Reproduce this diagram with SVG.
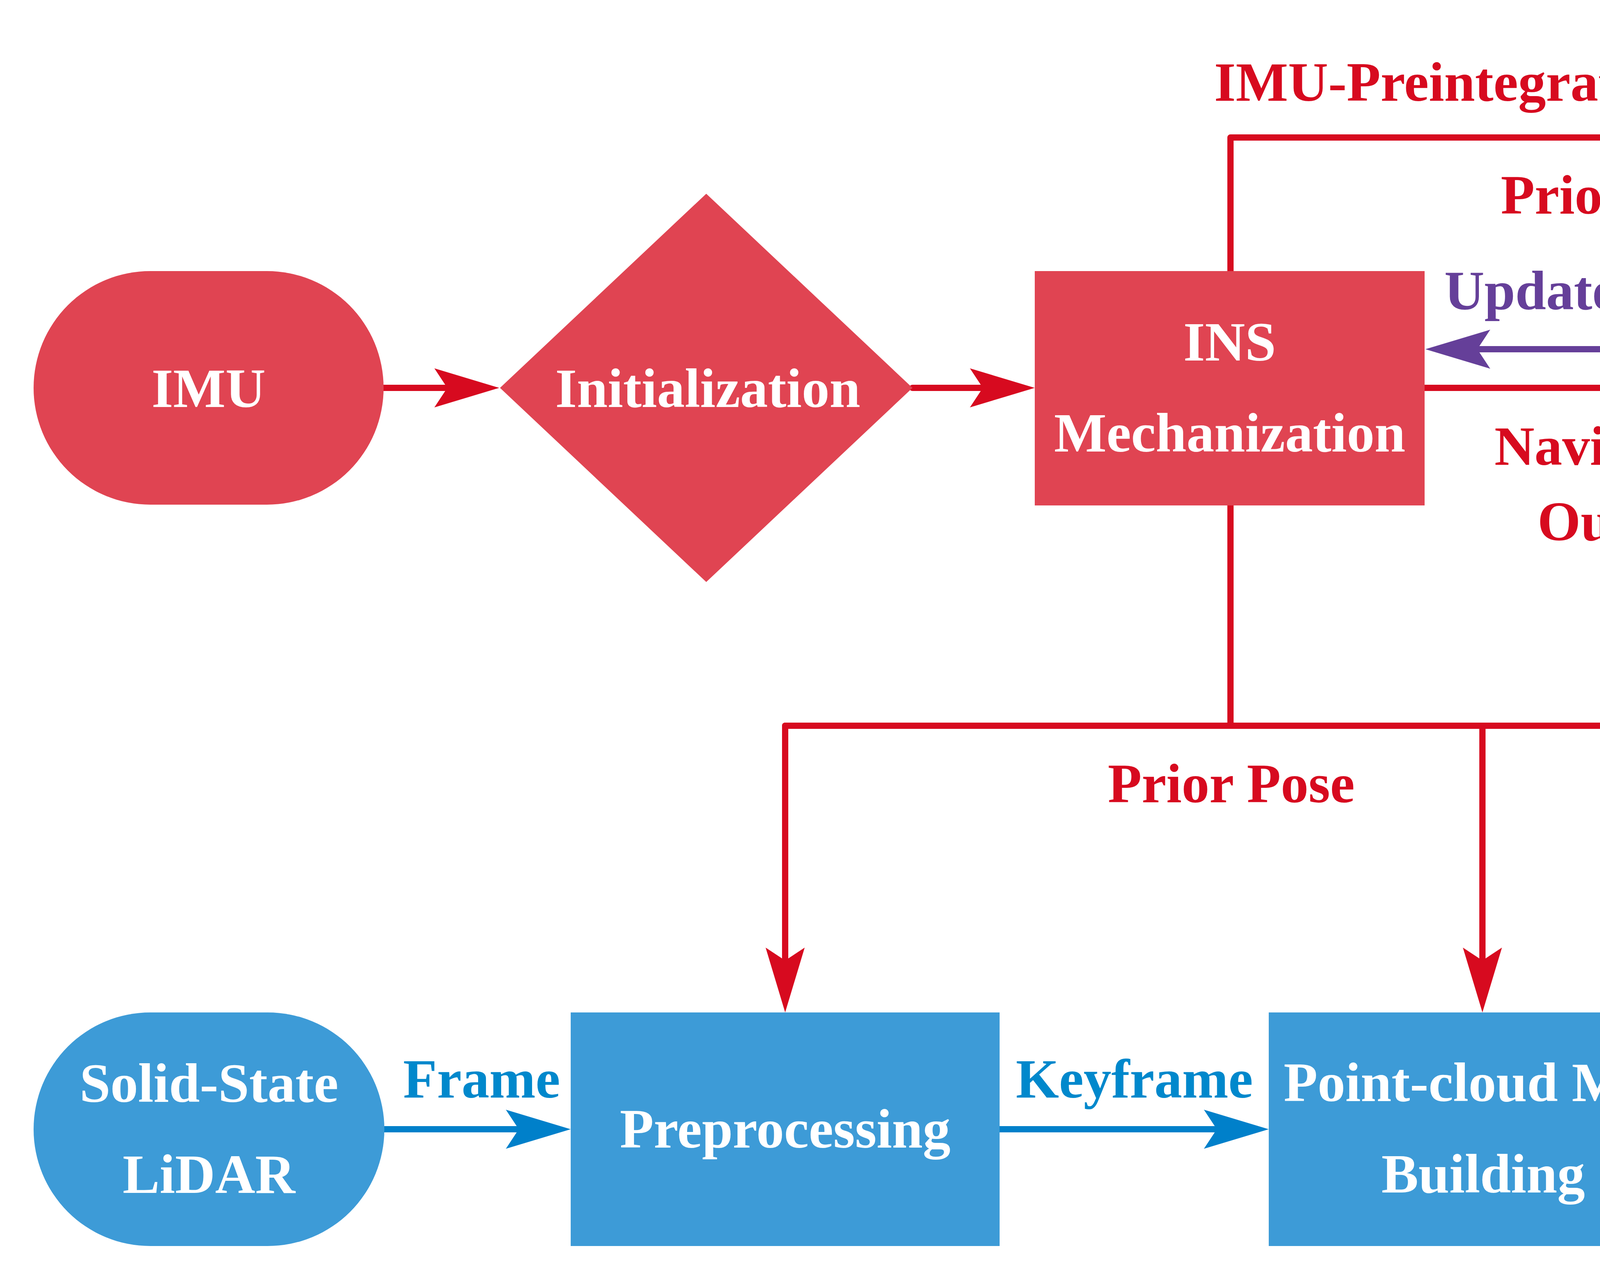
<svg xmlns="http://www.w3.org/2000/svg" width="6273" height="3277" viewBox="0 0 6273 3277">
<style>
text{font-family:"Liberation Serif","Times New Roman",serif;font-weight:bold;font-size:142px;text-anchor:middle}
.w{fill:#ffffff}
.rt{fill:#D70A1F}
.pt{fill:#653F99}
.bt{fill:#0088CC}
.big{font-size:164px}
.rn{fill:#E04452}
.pn{fill:#8B6FAF}
.bn{fill:#3D9BD7}
.c{fill:none;stroke-width:16;stroke-linecap:round;stroke-linejoin:round}
.cr{stroke:#D70A1F}
.cp{stroke:#653F99}
.cb{stroke:#0080CA}
</style>
<defs>
<marker id="ar" markerUnits="userSpaceOnUse" viewBox="-170 -55 175 110" markerWidth="175" markerHeight="110" refX="-133" refY="0" orient="auto"><path d="M0,0 L-166,-50 L-133,0 L-166,50 Z" fill="#D70A1F"/></marker>
<marker id="ap" markerUnits="userSpaceOnUse" viewBox="-170 -55 175 110" markerWidth="175" markerHeight="110" refX="-133" refY="0" orient="auto"><path d="M0,0 L-166,-50 L-133,0 L-166,50 Z" fill="#653F99"/></marker>
<marker id="ab" markerUnits="userSpaceOnUse" viewBox="-170 -55 175 110" markerWidth="175" markerHeight="110" refX="-133" refY="0" orient="auto"><path d="M0,0 L-166,-50 L-133,0 L-166,50 Z" fill="#0080CA"/></marker>
</defs>
<rect width="6273" height="3277" fill="#ffffff"/>
<g id="connectors">
<path class="c cr" d="M982,993 L1145,993" marker-end="url(#ar)"/>
<path class="c cr" d="M2336,993 L2516,993" marker-end="url(#ar)"/>
<path class="c cr" d="M3150,694 L3150,352 L4689,352" marker-end="url(#ar)"/>
<path class="c cr" d="M3647,993 L4509,993" marker-end="url(#ar)"/>
<path class="c cp" d="M4822,894 L3782,894" marker-end="url(#ap)"/>
<path class="c cr" d="M3150,1294 L3150,1858"/>
<path class="c cr" d="M2010,1858 L4415,1858"/>
<path class="c cr" d="M2010,1858 L2010,2459" marker-end="url(#ar)"/>
<path class="c cr" d="M3795,1858 L3795,2459" marker-end="url(#ar)"/>
<path class="c cr" d="M4415,1858 L4415,2760 L4823,2760" marker-end="url(#ar)"/>
<path class="c cb" d="M984,2891 L1328,2891" marker-end="url(#ab)"/>
<path class="c cb" d="M2559,2891 L3115,2891" marker-end="url(#ab)"/>
<path class="c cb" d="M4345,2891 L4823,2891" marker-end="url(#ab)"/>
<path class="c cb" d="M5505,2592 L5505,1585" marker-end="url(#ab)"/>
</g>
<g id="labels">
<text class="rt" x="3937" y="258">IMU-Preintegration Factor</text>
<text class="rt" x="4158" y="547">Prior Pose</text>
<text class="pt" x="4157" y="792">Updated States</text>
<text class="rt" x="4157" y="1190">Navigation</text>
<text class="rt" x="4157" y="1383">Output</text>
<text class="rt" x="3152" y="2054">Prior Pose</text>
<text class="bt" x="4970" y="2057">LiDAR</text>
<text class="bt" x="4970" y="2249">Frame-to-Frame</text>
<text class="bt" x="4970" y="2440">Factor</text>
<text class="bt" x="1233" y="2810">Frame</text>
<text class="bt" x="2904" y="2810">Keyframe</text>
</g>
<g id="imu">
<rect class="rn" x="86" y="694" width="896" height="598" rx="299" ry="299"/>
<text class="w" x="534" y="1042">IMU</text>
</g>
<g id="initialization">
<polygon class="rn" points="1808,496 2336,993 1808,1490 1280,993"/>
<text class="w" x="1812" y="1042">Initialization</text>
</g>
<g id="ins">
<rect class="rn" x="2649" y="694" width="998" height="600"/>
<text class="w" x="3148" y="923">INS</text>
<text class="w" x="3148" y="1156">Mechanization</text>
</g>
<g id="factor-graph">
<rect class="pn" x="4822" y="87" width="1363" height="1364"/>
<text class="w big" x="5503" y="681">Factor Graph</text>
<text class="w big" x="5503" y="960">Optimization</text>
</g>
<g id="lidar">
<rect class="bn" x="86" y="2592" width="898" height="598" rx="299" ry="299"/>
<text class="w" x="535" y="2821">Solid-State</text>
<text class="w" x="535" y="3054">LiDAR</text>
</g>
<g id="preprocessing">
<rect class="bn" x="1461" y="2592" width="1098" height="598"/>
<text class="w" x="2010" y="2938">Preprocessing</text>
</g>
<g id="map-building">
<rect class="bn" x="3248" y="2592" width="1097" height="598"/>
<text class="w" x="3797" y="2819">Point-cloud Map</text>
<text class="w" x="3797" y="3053">Building</text>
</g>
<g id="data-association">
<rect class="bn" x="4956" y="2592" width="1099" height="598"/>
<text class="w" x="5505" y="2819">Frame-to-Frame</text>
<text class="w" x="5505" y="3053">Data Association</text>
</g>
</svg>
